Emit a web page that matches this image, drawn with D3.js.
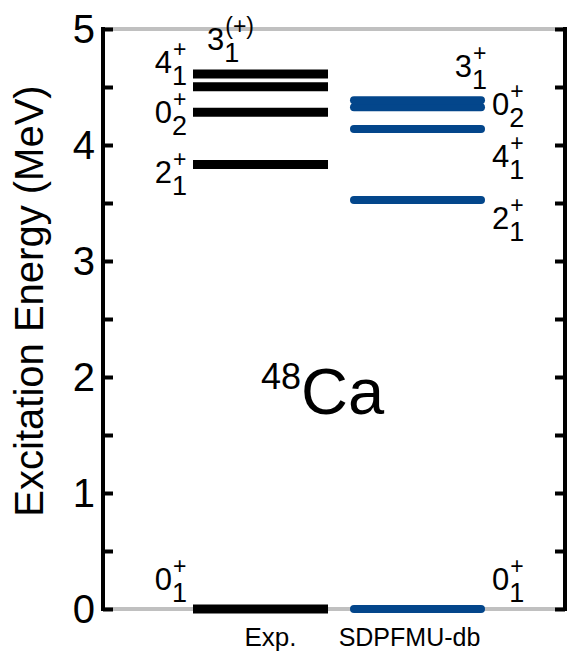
<!DOCTYPE html>
<html>
<head>
<meta charset="utf-8">
<script src="https://cdn.jsdelivr.net/npm/d3@7"></script>
<style>
  html, body { margin: 0; padding: 0; background: #fff; }
  svg text { font-family: "Liberation Sans", Arial, sans-serif; fill: #000; }
</style>
</head>
<body>
<svg id="chart" width="577" height="654"></svg>
<script>
// ---------------- data ----------------
const columns = ["Exp.", "SDPFMU-db"];
const yTicks = [0, 1, 2, 3, 4, 5];
const minorTicks = [0, 0.5, 1, 1.5, 2, 2.5, 3, 3.5, 4, 4.5, 5];

// experimental levels (MeV)
const expEnergies = [0, 3.832, 4.283, 4.503, 4.612];
const expSpins    = ["0", "2", "0", "4", "3"];
const expParity   = ["+", "+", "+", "+", "(+)"];
const expIndex    = ["1", "1", "2", "1", "1"];
const expLabelE   = [0.16, 3.67, 4.19, 4.62, 4.82];   // label baseline positions (MeV)

// SDPFMU-db levels (MeV)
const thEnergies = [0, 3.526, 4.138, 4.325, 4.385];
const thSpins    = ["0", "2", "4", "0", "3"];
const thParity   = ["+", "+", "+", "+", "+"];
const thIndex    = ["1", "1", "1", "2", "1"];
const thLabelE   = [0.16, 3.28, 3.81, 4.26, 4.59];

const nucleusMass = "48";
const nucleusName = "Ca";
const yTitle = "Excitation Energy (MeV)";

// ---------------- layout ----------------
const svg = d3.select("#chart");
const pLeft = 103, pRight = 565, pTop = 29, pBottom = 609;
const y = d3.scaleLinear().domain([0, 5]).range([pBottom, pTop]);
const x = d3.scaleBand().domain(columns).range([193, 485]).paddingInner(0.14);

const blue = "#03468b";
const gray = "#c0c0c0";

// gray top/bottom frame lines
svg.append("line").attr("x1", pLeft).attr("x2", pRight).attr("y1", y(5)).attr("y2", y(5))
  .attr("stroke", gray).attr("stroke-width", 4);
svg.append("line").attr("x1", pLeft).attr("x2", pRight).attr("y1", y(0)).attr("y2", y(0))
  .attr("stroke", gray).attr("stroke-width", 4);

// left axis
const gL = svg.append("g").attr("transform", `translate(${pLeft},0)`)
  .call(d3.axisRight(y).tickValues(minorTicks).tickSize(10).tickFormat(""));
gL.select(".domain").attr("stroke", "#000").attr("stroke-width", 4).attr("d", `M0,${pTop - 2}V${pBottom + 2}`);
gL.selectAll(".tick line").attr("stroke", "#000").attr("stroke-width", 4);

// right axis
const gR = svg.append("g").attr("transform", `translate(${pRight},0)`)
  .call(d3.axisLeft(y).tickValues(minorTicks).tickSize(10).tickFormat(""));
gR.select(".domain").attr("stroke", "#000").attr("stroke-width", 4).attr("d", `M0,${pTop - 2}V${pBottom + 2}`);
gR.selectAll(".tick line").attr("stroke", "#000").attr("stroke-width", 4);

// tick labels
svg.append("g").selectAll("text").data(yTicks).join("text")
  .attr("x", 95).attr("y", d => y(d))
  .attr("text-anchor", "end").attr("dominant-baseline", "central")
  .attr("font-size", 40).text(d => d);

// y title
svg.append("text")
  .attr("transform", `translate(43,${(pTop + pBottom) / 2 - 18}) rotate(-90)`)
  .attr("text-anchor", "middle").attr("font-size", 40).text(yTitle);

// column labels
svg.append("text").attr("x", x("Exp.") + x.bandwidth() / 2 + 10).attr("y", 646)
  .attr("text-anchor", "middle").attr("font-size", 26).text(columns[0]);
svg.append("text").attr("x", x("SDPFMU-db") + x.bandwidth() / 2 - 8).attr("y", 646)
  .attr("text-anchor", "middle").attr("font-size", 25).text(columns[1]);

// level bars
svg.append("g").selectAll("line").data(expEnergies).join("line")
  .attr("x1", x("Exp.")).attr("x2", x("Exp.") + x.bandwidth())
  .attr("y1", d => y(d)).attr("y2", d => y(d))
  .attr("stroke", "#000").attr("stroke-width", 9);

svg.append("g").selectAll("line").data(thEnergies).join("line")
  .attr("x1", x("SDPFMU-db") + 4).attr("x2", x("SDPFMU-db") + x.bandwidth() - 4)
  .attr("y1", d => y(d)).attr("y2", d => y(d))
  .attr("stroke", blue).attr("stroke-width", 8).attr("stroke-linecap", "round");

// level labels
function drawLabel(xPos, yPos, spin, parity, idx, anchorEnd) {
  const g = svg.append("g");
  const main = g.append("text").attr("x", 0).attr("y", 0).attr("font-size", 31).text(spin);
  const w = main.node().getComputedTextLength();
  const sup = g.append("text").attr("x", w + 1).attr("y", -16).attr("font-size", 23).text(parity);
  const sub = g.append("text").attr("x", w).attr("y", 12).attr("font-size", 27).text(idx);
  const tot = w + Math.max(sup.node().getComputedTextLength(), sub.node().getComputedTextLength());
  const gx = anchorEnd ? xPos - tot : xPos;
  g.attr("transform", `translate(${gx},${yPos})`);
}

const expStart = x("Exp.");
expEnergies.forEach((e, i) => {
  if (expParity[i] === "(+)") {
    drawLabel(expStart + 14, y(expLabelE[i]), expSpins[i], expParity[i], expIndex[i], false);
  } else {
    drawLabel(expStart - 6, y(expLabelE[i]), expSpins[i], expParity[i], expIndex[i], true);
  }
});

const thEnd = x("SDPFMU-db") + x.bandwidth();
thEnergies.forEach((e, i) => {
  if (thSpins[i] === "3") {
    drawLabel(thEnd + 2, y(thLabelE[i]), thSpins[i], thParity[i], thIndex[i], true);
  } else {
    drawLabel(thEnd + 7, y(thLabelE[i]), thSpins[i], thParity[i], thIndex[i], false);
  }
});

// nucleus label
const nl = svg.append("text").attr("x", 261).attr("y", 414);
nl.append("tspan").attr("font-size", 36).attr("dy", -25).text(nucleusMass);
nl.append("tspan").attr("font-size", 65).attr("dy", 25).text(nucleusName);
</script>
</body>
</html>
